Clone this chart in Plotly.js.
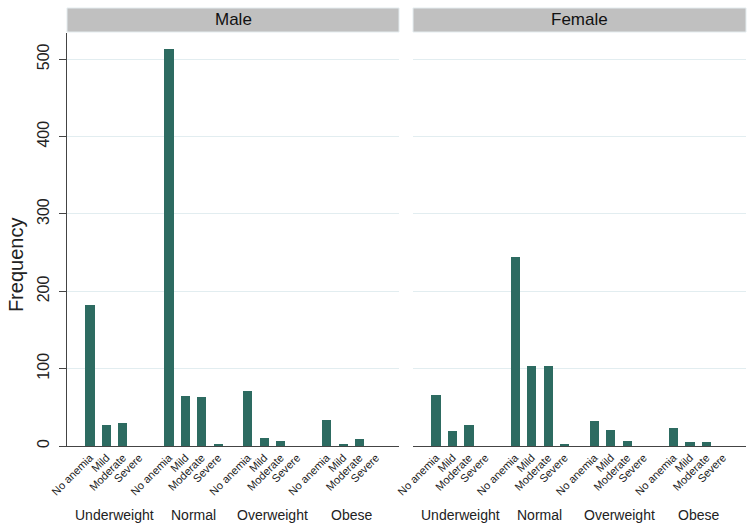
<!DOCTYPE html>
<html>
<head>
<meta charset="utf-8">
<script src="https://cdn.plot.ly/plotly-3.0.1.min.js"></script>
<style>
  html, body { margin: 0; padding: 0; background: #fff; }
  #chart { width: 755px; height: 531px; }
</style>
</head>
<body>
<div id="chart"></div>
<script>
// Categories
const groups = ['Underweight', 'Normal', 'Overweight', 'Obese'];
const anemia = ['No anemia', 'Mild', 'Moderate', 'Severe'];

// Frequencies (No anemia, Mild, Moderate, Severe)
const maleUnderweight = [182, 27, 30, 0];
const maleNormal = [513, 65, 63, 2];
const maleOverweight = [71, 10, 6, 0];
const maleObese = [33, 3, 9, 0];

const femaleUnderweight = [66, 19, 27, 0];
const femaleNormal = [245, 104, 104, 2];
const femaleOverweight = [32, 21, 7, 0];
const femaleObese = [23, 5, 5, 0];

const yTicks = [0, 100, 200, 300, 400, 500];

// Layout helpers
const GROUP_STEP = 4.8;   // distance between groups, in bar slots
const BAR_COLOR = '#2d6b61';
const AXIS_COLOR = '#444';
const GRID_COLOR = '#e2edf0';
const FONT = '"Liberation Sans", Arial, sans-serif';

const slot = (g, b) => g * GROUP_STEP + b;

function panelTrace(groupArrays, xa, ya) {
    const x = [], y = [];
    groupArrays.forEach((vals, g) => {
        vals.forEach((v, b) => { x.push(slot(g, b)); y.push(v); });
    });
    return {
        type: 'bar', x: x, y: y, xaxis: xa, yaxis: ya,
        width: 0.56, marker: { color: BAR_COLOR, line: { width: 0 } },
        hoverinfo: 'y', showlegend: false
    };
}

const traces = [
    panelTrace([maleUnderweight, maleNormal, maleOverweight, maleObese], 'x', 'y'),
    panelTrace([femaleUnderweight, femaleNormal, femaleOverweight, femaleObese], 'x2', 'y2')
];

// tick positions and labels for the anemia levels
const tickVals = [], tickText = [];
groups.forEach((grp, g) => {
    anemia.forEach((lvl, b) => { tickVals.push(slot(g, b)); tickText.push(lvl); });
});
const xRange = [-1.4, slot(groups.length - 1, anemia.length - 1) + 1.4];

function xAxis(domain, anchor) {
    return {
        domain: domain, anchor: anchor, range: xRange, fixedrange: true,
        showgrid: false, zeroline: false,
        showline: true, linecolor: AXIS_COLOR, linewidth: 1,
        tickmode: 'array', tickvals: tickVals, ticktext: tickText,
        tickangle: -45, ticks: '', ticklabelstandoff: 0,
        tickfont: { family: FONT, size: 11, color: '#222' }
    };
}

const maleDomain = [0, 0.489];
const femaleDomain = [0.5096, 1];

// strip headers and group labels
const shapes = [], annotations = [];
[[maleDomain, 'Male'], [femaleDomain, 'Female']].forEach(([d, name]) => {
    shapes.push({
        type: 'rect', xref: 'paper', yref: 'paper',
        x0: d[0], x1: d[1], y0: 1.0024, y1: 1.0605,
        fillcolor: '#c0c0c0', line: { color: '#e4ecef', width: 1 }, layer: 'below'
    });
    annotations.push({
        text: name, xref: 'paper', yref: 'paper',
        x: (d[0] + d[1]) / 2, y: 1.0315, xanchor: 'center', yanchor: 'middle',
        showarrow: false, font: { family: FONT, size: 17, color: '#111' }
    });
});
['x', 'x2'].forEach(xr => {
    groups.forEach((grp, g) => {
        annotations.push({
            text: grp, xref: xr, yref: 'paper',
            x: slot(g, (anemia.length - 1) / 2), y: -0.167,
            xanchor: 'center', yanchor: 'middle', showarrow: false,
            font: { family: FONT, size: 14, color: '#222' }
        });
    });
});
// y title, placed like the original (centred on the whole graph)
annotations.push({
    text: 'Frequency', xref: 'paper', yref: 'paper',
    x: -0.0751, y: 0.438, xanchor: 'center', yanchor: 'middle',
    textangle: -90, showarrow: false,
    font: { family: FONT, size: 20, color: '#222' }
});

const layout = {
    width: 755, height: 531,
    margin: { l: 67, r: 9, t: 33, b: 85 },
    paper_bgcolor: '#fff', plot_bgcolor: '#fff',
    font: { family: FONT, color: '#222' },
    bargap: 0,
    xaxis: xAxis(maleDomain, 'y'),
    xaxis2: xAxis(femaleDomain, 'y2'),
    yaxis: {
        anchor: 'x', range: [0, 534], fixedrange: true,
        tickmode: 'array', tickvals: yTicks, tickangle: -90,
        ticks: 'outside', ticklen: 7, tickcolor: AXIS_COLOR, tickwidth: 1,
        ticklabelstandoff: 4,
        tickfont: { family: FONT, size: 16, color: '#222' },
        showline: true, linecolor: AXIS_COLOR, linewidth: 1,
        showgrid: true, gridcolor: GRID_COLOR, gridwidth: 1, zeroline: false
    },
    yaxis2: {
        anchor: 'x2', matches: 'y', range: [0, 534], fixedrange: true,
        tickmode: 'array', tickvals: yTicks, showticklabels: false, ticks: '',
        showline: false, showgrid: true, gridcolor: GRID_COLOR, gridwidth: 1, zeroline: false
    },
    shapes: shapes,
    annotations: annotations
};

Plotly.newPlot('chart', traces, layout, { displayModeBar: false, staticPlot: true });
</script>
</body>
</html>
